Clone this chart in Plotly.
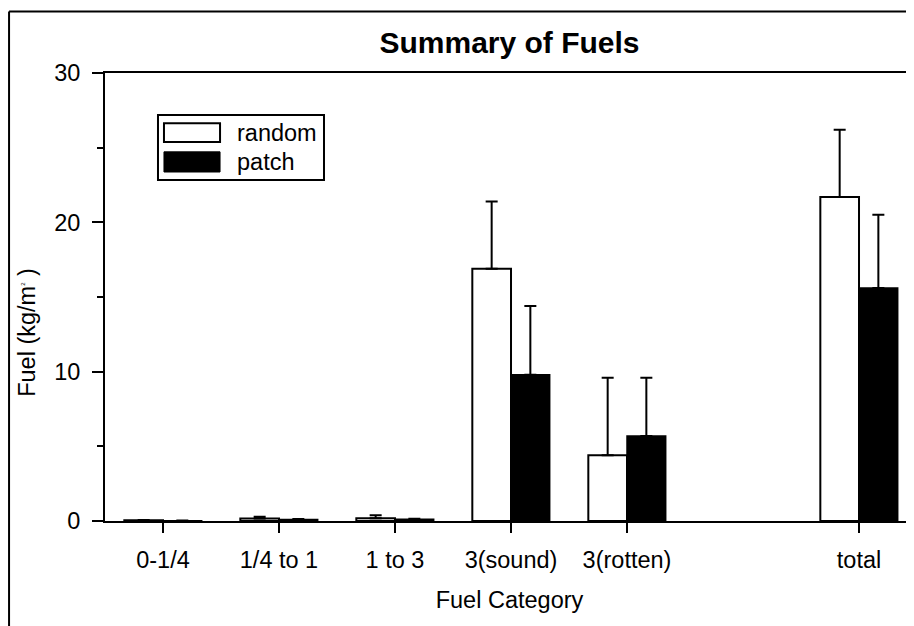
import plotly.graph_objects as go

# ---- data ----
categories = ["0-1/4", "1/4 to 1", "1 to 3", "3(sound)", "3(rotten)", " ", "total"]
tick_labels = ["0-1/4", "1/4 to 1", "1 to 3", "3(sound)", "3(rotten)", "total"]
series_names = ["random", "patch"]
random_vals = [0.05, 0.17, 0.18, 16.9, 4.4, None, 21.7]
random_err = [0.02, 0.12, 0.20, 4.5, 5.2, None, 4.5]
patch_vals = [0.02, 0.10, 0.11, 9.8, 5.7, None, 15.6]
patch_err = [0.01, 0.04, 0.04, 4.6, 3.9, None, 4.9]
y_ticks = [0, 10, 20, 30]

FONT = "Arial, 'Liberation Sans', sans-serif"
FS = 23.5

fig = go.Figure()
fig.add_trace(go.Bar(
    name=series_names[0], x=categories, y=random_vals,
    marker=dict(color="white", line=dict(color="black", width=2)),
    error_y=dict(type="data", symmetric=False, array=random_err,
                 arrayminus=[0] * len(random_err), color="black",
                 thickness=2, width=6),
    showlegend=False,
))
fig.add_trace(go.Bar(
    name=series_names[1], x=categories, y=patch_vals,
    marker=dict(color="black", line=dict(color="black", width=1.5)),
    error_y=dict(type="data", symmetric=False, array=patch_err,
                 arrayminus=[0] * len(patch_err), color="black",
                 thickness=2, width=6),
    showlegend=False,
))

shapes = [
    # outer frame of the page
    dict(type="line", xref="paper", yref="paper", x0=-0.1186, x1=1.05, y0=1.1373, y1=1.1373,
         line=dict(color="black", width=2)),
    dict(type="line", xref="paper", yref="paper", x0=-0.1186, x1=-0.1186, y0=-0.3, y1=1.1373,
         line=dict(color="black", width=2)),
    # legend box
    dict(type="rect", xref="paper", yref="paper", x0=0.0655, x1=0.2707, y0=0.761, y1=0.906,
         line=dict(color="black", width=2), fillcolor="white"),
    dict(type="rect", xref="paper", yref="paper", x0=0.0729, x1=0.1422, y0=0.846, y1=0.888,
         line=dict(color="black", width=2), fillcolor="white"),
    dict(type="rect", xref="paper", yref="paper", x0=0.0729, x1=0.1422, y0=0.779, y1=0.824,
         line=dict(color="black", width=1), fillcolor="black"),
]
annotations = [
    dict(text=series_names[0], xref="paper", yref="paper", x=0.1607, y=0.866,
         xanchor="left", yanchor="middle", showarrow=False,
         font=dict(family=FONT, size=FS, color="black")),
    dict(text=series_names[1], xref="paper", yref="paper", x=0.1607, y=0.801,
         xanchor="left", yanchor="middle", showarrow=False,
         font=dict(family=FONT, size=FS, color="black")),
    dict(text="Fuel (kg/m<sup><span style='font-size:6px'>2</span></sup>\u00a0)",
         xref="paper", yref="paper", x=-0.0964, y=0.42, textangle=-90,
         xanchor="center", yanchor="middle", showarrow=False,
         font=dict(family=FONT, size=FS, color="black")),
]

fig.update_layout(
    width=906, height=618,
    margin=dict(l=97, r=0, t=65, b=105, pad=0),
    paper_bgcolor="white", plot_bgcolor="white",
    barmode="group", bargap=0.333, bargroupgap=0,
    font=dict(family=FONT, size=FS, color="black"),
    title=dict(text="Summary of Fuels", x=0.5, xref="paper", y=1 - 34 / 618,
               yref="container", xanchor="center", yanchor="middle",
               font=dict(family=FONT, size=30, color="black", weight="bold")),
    shapes=shapes, annotations=annotations,
    xaxis=dict(
        type="category", categoryorder="array", categoryarray=categories,
        range=[-0.5, 6.474],
        tickmode="array", tickvals=tick_labels, ticktext=tick_labels,
        showline=True, linecolor="black", linewidth=2, mirror=True,
        ticks="outside", ticklen=10, tickwidth=2, tickcolor="black",
        ticklabelstandoff=7, showgrid=False, zeroline=False,
        title=dict(text="Fuel Category", standoff=19,
                   font=dict(family=FONT, size=FS, color="black")),
    ),
    yaxis=dict(
        range=[0, 30], tickmode="array", tickvals=y_ticks,
        showline=True, linecolor="black", linewidth=2, mirror=False,
        ticks="outside", ticklen=11, tickwidth=2, tickcolor="black",
        ticklabelstandoff=7, showgrid=False, zeroline=False,
        minor=dict(dtick=5, tick0=0, ticks="outside", ticklen=6, tickwidth=2,
                   tickcolor="black", showgrid=False),
    ),
)

fig.write_html("out.html")
